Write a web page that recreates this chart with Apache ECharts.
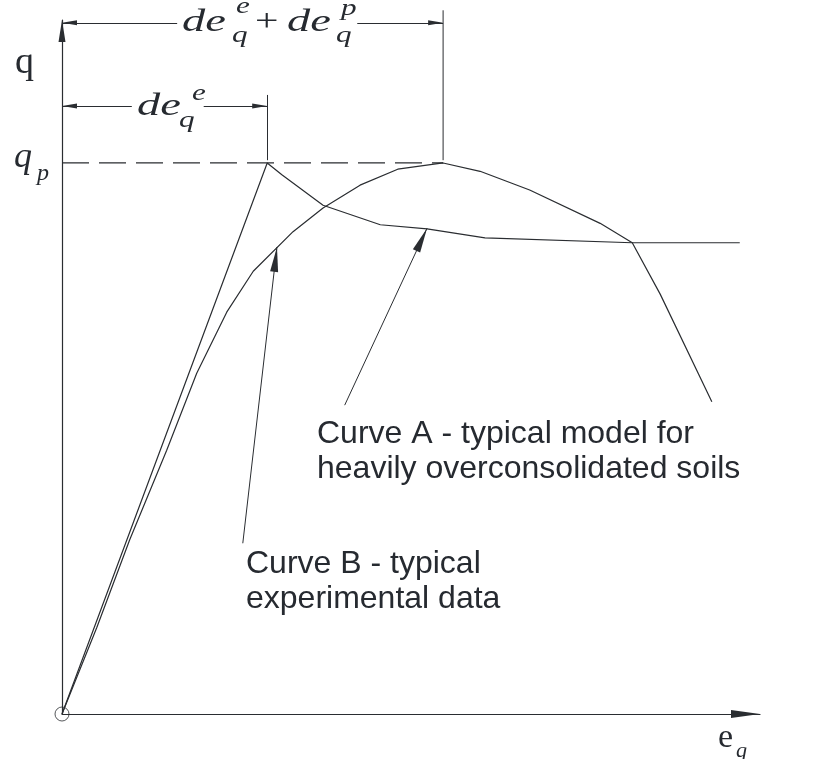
<!DOCTYPE html>
<html>
<head>
<meta charset="utf-8">
<script src="https://cdn.jsdelivr.net/npm/echarts@6/dist/echarts.min.js"></script>
<style>
html, body { margin: 0; padding: 0; background: #fff; }
#main { width: 815px; height: 759px; }
</style>
</head>
<body>
<div id="main"></div>
<script>
// q - e_q sketch (arbitrary units, 0..10 on both axes)
var curveAStrain = [0, 2.94, 3.15, 3.74, 4.56, 5.23, 6.06, 8.17, 9.71];
var curveAStress = [0, 7.94, 7.77, 7.33, 7.05, 6.99, 6.86, 6.79, 6.79];
var curveBStrain = [0, 0.50, 0.97, 1.50, 1.93, 2.36, 2.74, 3.31, 3.74, 4.27, 4.81, 5.46, 5.99, 6.70, 7.71, 8.17, 8.57, 9.31];
var curveBStress = [0, 1.25, 2.51, 3.80, 4.91, 5.79, 6.38, 6.95, 7.29, 7.62, 7.85, 7.94, 7.82, 7.55, 7.07, 6.79, 6.05, 4.50];
var peakStress = 7.94;
var peakStrainA = 2.94;
var peakStrainB = 5.46;
// dimension lines (de_q^e and de_q^e + de_q^p) and leader arrows
var dimTopY = 9.96, dimTopGap = [1.65, 4.23];
var dimLowY = 8.76, dimLowGap = [1.00, 2.03];
var tickA = [8.92, 7.98];
var tickB = [10.14, 7.98];
var leaderA = [[4.05, 4.45], [5.23, 7.00]];
var leaderB = [[2.59, 2.46], [3.08, 6.73]];

var ink = '#2a2d31';
var txtInk = '#262a30';

function zip(xs, ys) {
    return xs.map(function (x, i) { return [x, ys[i]]; });
}

function arrowEnd(pt, w, h) {
    return { coord: pt, symbol: 'triangle', symbolSize: [w, h], symbolOffset: [0, '50%'] };
}

function tx(x, y, s, size, italic, family, sx) {
    return {
        type: 'text', x: x, y: y, scaleX: sx || 1, silent: true,
        style: {
            text: s, fill: txtInk,
            font: (italic ? 'italic ' : '') + size + 'px ' + family,
            align: 'left', verticalAlign: 'middle'
        }
    };
}

var serif = '"Liberation Serif", serif';
var sans = '"Liberation Sans", Arial, sans-serif';
var wide = 1.45;   // the dimension labels are set in a wide italic

var myChart = echarts.init(document.getElementById('main'));

var option = {
    animation: false,
    grid: { left: 62, right: 55, top: 20, bottom: 45 },
    xAxis: {
        type: 'value', min: 0, max: 10,
        axisLine: {
            show: true, symbol: ['none', 'triangle'], symbolSize: [8, 29], symbolOffset: [0, -14.5],
            lineStyle: { color: ink, width: 1.2 }
        },
        axisTick: { show: false }, axisLabel: { show: false }, splitLine: { show: false }
    },
    yAxis: {
        type: 'value', min: 0, max: 10,
        axisLine: {
            show: true, symbol: ['none', 'triangle'], symbolSize: [7, 22], symbolOffset: [0, -11],
            lineStyle: { color: ink, width: 1.2 }
        },
        axisTick: { show: false }, axisLabel: { show: false }, splitLine: { show: false }
    },
    series: [
        {
            name: 'Curve A', type: 'line', data: zip(curveAStrain, curveAStress),
            symbol: 'none', lineStyle: { color: ink, width: 1.2 }, z: 3, silent: true
        },
        {
            name: 'Curve B', type: 'line', data: zip(curveBStrain, curveBStress),
            symbol: 'none', lineStyle: { color: ink, width: 1.2 }, z: 3, silent: true
        },
        {
            // extension line of the total strain, reaches above the axis top
            name: 'tick B', type: 'line', data: [[peakStrainB, tickB[0]], [peakStrainB, tickB[1]]],
            symbol: 'none', clip: false, lineStyle: { color: ink, width: 1 }, silent: true
        },
        {
            name: 'q_p', type: 'line', data: [[0, peakStress], [peakStrainB, peakStress]],
            symbol: 'none', lineStyle: { color: ink, width: 1.2, type: [27, 10] }, z: 2, silent: true,
            markLine: {
                silent: true, animation: false,
                symbol: ['none', 'none'],
                label: { show: false },
                emphasis: { disabled: true },
                lineStyle: { color: ink, width: 1, type: 'solid' },
                data: [
                    [{ coord: [dimTopGap[0], dimTopY] }, arrowEnd([0, dimTopY], 5, 15)],
                    [{ coord: [dimTopGap[1], dimTopY] }, arrowEnd([peakStrainB, dimTopY], 5, 15)],
                    [{ coord: [dimLowGap[0], dimLowY] }, arrowEnd([0, dimLowY], 5, 15)],
                    [{ coord: [dimLowGap[1], dimLowY] }, arrowEnd([peakStrainA, dimLowY], 5, 15)],
                    [{ coord: [peakStrainA, tickA[0]] }, { coord: [peakStrainA, tickA[1]] }],
                    [{ coord: leaderA[0] }, arrowEnd(leaderA[1], 8, 25)],
                    [{ coord: leaderB[0] }, arrowEnd(leaderB[1], 8, 25)]
                ]
            }
        },
        {
            name: 'origin', type: 'scatter', data: [[0, 0]], symbol: 'circle', symbolSize: 14,
            itemStyle: { color: 'rgba(0,0,0,0)', borderColor: ink, borderWidth: 1 }, silent: true, z: 4
        }
    ],
    graphic: [
        // axis names
        tx(15, 63, 'q', 38, false, serif),
        tx(14, 158, 'q', 36, true, serif),
        tx(37, 174, 'p', 24, true, serif),
        tx(718, 738, 'e', 34, false, serif),
        tx(736, 751, 'q', 22, true, serif),
        // de_q^e + de_q^p
        tx(182, 23, 'de', 32, true, serif, wide),
        tx(232, 36, 'q', 24, true, serif, 1.3),
        tx(236, 7, 'e', 24, true, serif, 1.3),
        tx(255, 23, '+', 32, false, serif, 1.3),
        tx(287, 23, 'de', 32, true, serif, wide),
        tx(336, 36, 'q', 24, true, serif, 1.3),
        tx(341, 9, 'p', 24, true, serif, 1.3),
        // de_q^e
        tx(137, 107, 'de', 32, true, serif, wide),
        tx(179, 121, 'q', 24, true, serif, 1.3),
        tx(192, 94, 'e', 24, true, serif, 1.3),
        // curve notes
        tx(317, 434, 'Curve A - typical model for', 32, false, sans),
        tx(317, 469, 'heavily overconsolidated soils', 32, false, sans),
        tx(246, 564, 'Curve B - typical', 32, false, sans),
        tx(246, 599, 'experimental data', 32, false, sans)
    ]
};

myChart.setOption(option);
</script>
</body>
</html>
